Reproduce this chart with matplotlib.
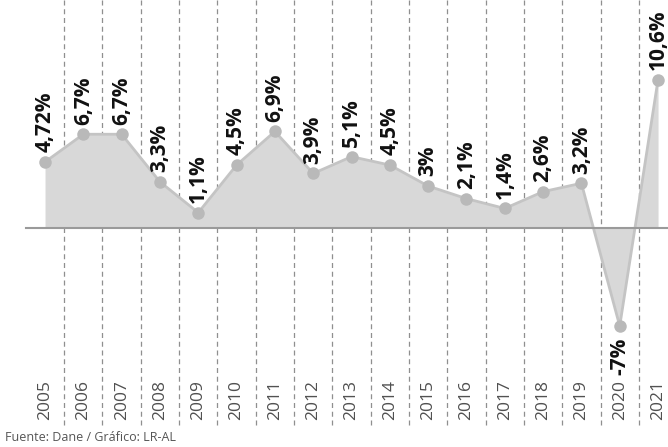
import numpy as np
import matplotlib
matplotlib.use("Agg")
import matplotlib.pyplot as plt

# PIB anual Colombia (%)
years = list(range(2005, 2022))
growth = [4.72, 6.7, 6.7, 3.3, 1.1, 4.5, 6.9, 3.9, 5.1, 4.5, 3.0, 2.1, 1.4, 2.6, 3.2, -7.0, 10.6]
labels = ["4,72%", "6,7%", "6,7%", "3,3%", "1,1%", "4,5%", "6,9%", "3,9%", "5,1%",
          "4,5%", "3%", "2,1%", "1,4%", "2,6%", "3,2%", "-7%", "10,6%"]
source = "Fuente: Dane / Gráfico: LR-AL"

plt.rcParams['font.family'] = ['Open Sans', 'DejaVu Sans']

fig = plt.figure(figsize=(6.68, 4.47), dpi=100)
ax = fig.add_axes([0, 0, 1, 1])
ax.set_xlim(2003.825, 2021.26)
ax.set_ylim(-15.64, 16.29)
ax.axis('off')

# separadores punteados entre años
for yr in years[:-1]:
    ax.plot([yr + 0.5, yr + 0.5], [-14.1, 16.29], color='#8f8f8f', lw=0.9,
            ls=(0, (4, 3)), zorder=1)

ax.fill_between(years, growth, 0, color='#d8d8d8', lw=0, zorder=2)
ax.plot(years, growth, color='#c4c4c4', lw=2, zorder=3)
ax.plot(years, growth, 'o', color='#b9b9b9', ms=9, mec='none', zorder=4)
ax.plot([2004.5, 2021.26], [0, 0], color='#9a9a9a', lw=1.5, zorder=3)

for yr, val, lab in zip(years, growth, labels):
    if val < 0:
        ax.annotate(lab, (yr, val), xytext=(0, -8), textcoords='offset points',
                    rotation=90, ha='center', va='top', fontsize=15,
                    fontweight='bold', color='#111111', zorder=5)
    else:
        ax.annotate(lab, (yr, val), xytext=(0, 7), textcoords='offset points',
                    rotation=90, ha='center', va='bottom', fontsize=15,
                    fontweight='bold', color='#111111', zorder=5)
    ax.text(yr, -13.7, str(yr), rotation=90, ha='center', va='bottom',
            fontsize=12.5, color='#505050', zorder=5)

fig.text(0.008, 0.022, source, fontsize=9, color='#555555', ha='left', va='center')

fig.savefig("out.png", dpi=100)
